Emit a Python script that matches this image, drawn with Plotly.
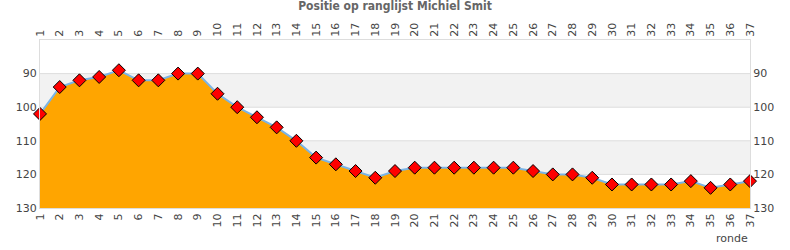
import plotly.graph_objects as go

rondes = list(range(1, 38))
posities = [102, 94, 92, 91, 89, 92, 92, 90, 90, 96, 100, 103, 106, 110, 115, 117, 119, 121, 119, 118,
            118, 118, 118, 118, 118, 119, 120, 120, 121, 123, 123, 123, 123, 122, 124, 123, 122]
y_ticks = [90, 100, 110, 120, 130]
y_bottom = 130
y_top = 80
bands = [(90, 100), (110, 120)]
title = "Positie op ranglijst Michiel Smit"

fig = go.Figure()
fig.add_trace(go.Scatter(x=rondes, y=[y_bottom] * len(rondes), mode="lines",
                         line=dict(width=0), hoverinfo="skip", showlegend=False))
fig.add_trace(go.Scatter(x=rondes, y=posities, mode="lines+markers", fill="tonexty",
                         fillcolor="#ffa500", line=dict(color="#7ab4e6", width=2),
                         marker=dict(symbol="diamond", size=10, color="#ff0000",
                                     line=dict(color="#000000", width=1)),
                         cliponaxis=False, showlegend=False))
fig.add_trace(go.Scatter(x=rondes, y=posities, xaxis="x2", yaxis="y2", mode="lines",
                         line=dict(width=0), hoverinfo="skip", showlegend=False))

for lo, hi in bands:
    fig.add_shape(type="rect", xref="paper", yref="y", x0=0, x1=1, y0=lo, y1=hi,
                  fillcolor="#f2f2f2", line=dict(width=0), layer="below")
for v in y_ticks[:-1]:
    fig.add_shape(type="line", xref="paper", yref="y", x0=0, x1=1, y0=v, y1=v,
                  line=dict(color="#dddddd", width=1), layer="below")

tickfont = dict(family="DejaVu Sans", size=11, color="#444444")
fig.update_layout(
    width=790, height=250,
    margin=dict(l=40, r=40, t=40, b=42),
    paper_bgcolor="white", plot_bgcolor="white",
    title=dict(text="<b>" + title + "</b>", x=0.5, xanchor="center", y=0.995, yanchor="top",
               font=dict(family="DejaVu Sans Condensed, DejaVu Sans", size=12, color="#666666")),
    xaxis=dict(range=[1, 37], tickmode="array", tickvals=rondes, ticktext=[str(r) for r in rondes],
               tickangle=-90, tickfont=tickfont, showgrid=False, zeroline=False,
               showline=True, linecolor="#dddddd", mirror=False, ticks=""),
    xaxis2=dict(range=[1, 37], overlaying="x", side="top", tickmode="array", tickvals=rondes,
                ticktext=[str(r) for r in rondes], tickangle=-90, tickfont=tickfont,
                showgrid=False, zeroline=False, showline=True, linecolor="#dddddd", ticks=""),
    yaxis=dict(range=[y_bottom, y_top], tickmode="array", tickvals=y_ticks, tickfont=tickfont,
               showgrid=False, zeroline=False, showline=True, linecolor="#dddddd", ticks=""),
    yaxis2=dict(range=[y_bottom, y_top], overlaying="y", side="right", tickmode="array",
                tickvals=y_ticks, tickfont=tickfont, showgrid=False, zeroline=False,
                showline=True, linecolor="#dddddd", ticks=""),
    annotations=[dict(text="ronde", xref="paper", yref="paper", x=1, y=0, xanchor="right",
                      yanchor="top", yshift=-22, showarrow=False,
                      font=dict(family="DejaVu Sans", size=11, color="#444444"))],
)

fig.write_html("out.html")
